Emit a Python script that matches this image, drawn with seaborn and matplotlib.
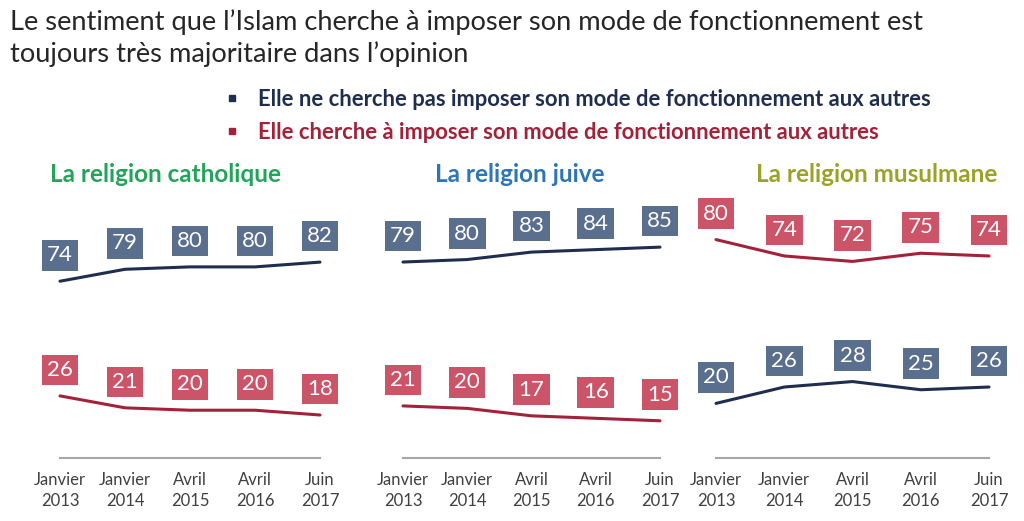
import numpy as np
import pandas as pd
import matplotlib.pyplot as plt
import seaborn as sns
from matplotlib.lines import Line2D

sns.set_style("white")
plt.rcParams["font.family"] = ["Lato", "DejaVu Sans"]

# data
periods = ["Janvier\n2013", "Janvier\n2014", "Avril\n2015", "Avril\n2016", "Juin\n2017"]
religions = ["La religion catholique", "La religion juive", "La religion musulmane"]
cath_pas = [74, 79, 80, 80, 82]
cath_impose = [26, 21, 20, 20, 18]
juive_pas = [79, 80, 83, 84, 85]
juive_impose = [21, 20, 17, 16, 15]
mus_pas = [20, 26, 28, 25, 26]
mus_impose = [80, 74, 72, 75, 74]

serie_pas = "Elle ne cherche pas imposer son mode de fonctionnement aux autres"
serie_impose = "Elle cherche à imposer son mode de fonctionnement aux autres"

navy_line = "#1F2D4F"
red_line = "#A3223A"
navy_box = "#5A6E8E"
red_box = "#CC5468"
title_colors = ["#22A55A", "#2E75B6", "#9AA228"]

# layout (pixels in a 1024x521 figure)
W, H = 1024, 521
panel_x = [(60, 320), (403, 660), (716, 989)]
title_cx = [166, 520, 877]
ytops = [108, 104, 94.5]
bottom_px, top_px = 458, 200

fig = plt.figure(figsize=(W / 100, H / 100), dpi=100)

fig.text(10 / W, 1 - 9 / H,
         "Le sentiment que l\u2019Islam cherche à imposer son mode de fonctionnement est\n"
         "toujours très majoritaire dans l\u2019opinion",
         fontsize=19.6, color="#262626", va="top", ha="left", linespacing=1.32)

handles = [Line2D([], [], marker="s", ls="", color=navy_line, markersize=5),
           Line2D([], [], marker="s", ls="", color=red_line, markersize=5)]
fig.legend(handles, [serie_pas, serie_impose], loc="upper left",
           bbox_to_anchor=(203 / W, 1 - 69 / H), frameon=False,
           prop={"weight": "bold", "size": 15.8}, labelcolor=[navy_line, red_line],
           handletextpad=0.8, labelspacing=0.55, handlelength=0.8)

panels = [(cath_pas, cath_impose), (juive_pas, juive_impose), (mus_pas, mus_impose)]

for i, (pas, impose) in enumerate(panels):
    x0, x1 = panel_x[i]
    ax = fig.add_axes([x0 / W, 1 - bottom_px / H, (x1 - x0) / W, (bottom_px - top_px) / H])
    df = pd.DataFrame({
        "pos": list(range(len(periods))) * 2,
        "valeur": pas + impose,
        "serie": [serie_pas] * len(pas) + [serie_impose] * len(impose),
    })
    sns.lineplot(data=df, x="pos", y="valeur", hue="serie",
                 palette={serie_pas: navy_line, serie_impose: red_line},
                 linewidth=2.2, legend=False, ax=ax, clip_on=False)
    for vals, box in [(pas, navy_box), (impose, red_box)]:
        for j, v in enumerate(vals):
            ax.annotate(str(v), (j, v), xytext=(0, 26), textcoords="offset pixels",
                        ha="center", va="center", fontsize=16, color="white",
                        annotation_clip=False,
                        bbox=dict(boxstyle="square,pad=0.24", fc=box, ec="none"))
    ax.set_xlim(0, len(periods) - 1)
    ax.set_ylim(0, ytops[i])
    ax.set_xticks(range(len(periods)))
    ax.set_xticklabels(periods, fontsize=12, color="#404040", linespacing=1.4)
    ax.tick_params(axis="x", length=0, pad=10)
    ax.set_yticks([])
    ax.set_xlabel("")
    ax.set_ylabel("")
    for s in ["top", "left", "right"]:
        ax.spines[s].set_visible(False)
    ax.spines["bottom"].set_color("#A6A6A6")
    ax.spines["bottom"].set_linewidth(1.5)
    ax.patch.set_alpha(0)
    fig.text(title_cx[i] / W, 1 - 175 / H, religions[i], fontsize=17.5,
             fontweight="bold", color=title_colors[i], ha="center", va="center")

fig.savefig("out.png", dpi=100)
